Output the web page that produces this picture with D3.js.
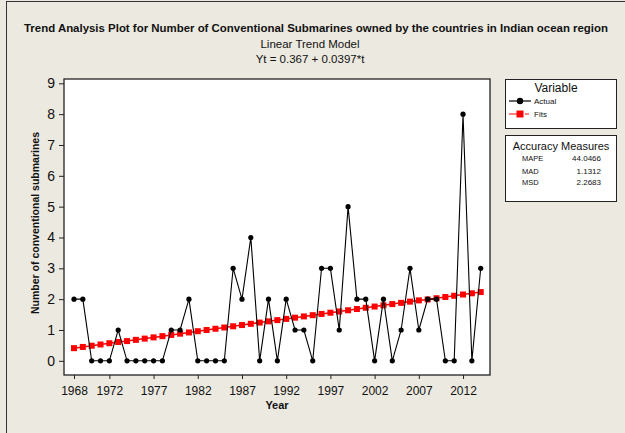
<!DOCTYPE html>
<html>
<head>
<meta charset="utf-8">
<script src="https://cdn.jsdelivr.net/npm/d3@7"></script>
<style>
  body { margin: 0; background: #ece9e0; }
  text { font-family: "Liberation Sans", Arial, sans-serif; fill: #111; }
</style>
</head>
<body>
<div id="chart"></div>
<script>
// years on the time axis (t = 1 .. 47)
var years = [1968,1969,1970,1971,1972,1973,1974,1975,1976,1977,1978,1979,1980,1981,1982,1983,
  1984,1985,1986,1987,1988,1989,1990,1991,1992,1993,1994,1995,1996,1997,1998,1999,2000,2001,
  2002,2003,2004,2005,2006,2007,2008,2009,2010,2011,2012,2013,2014];

var actual = [2,2,0,0,0,1,0,0,0,0,0,1,1,2,0,0,
  0,0,3,2,4,0,2,0,2,1,1,0,3,3,1,5,2,2,
  0,2,0,1,3,1,2,2,0,0,8,0,3];

var fits = [0.41,0.45,0.49,0.53,0.57,0.61,0.64,0.68,0.72,0.76,0.80,0.84,0.88,0.92,0.96,1.00,
  1.04,1.08,1.12,1.16,1.20,1.24,1.28,1.32,1.36,1.40,1.44,1.48,1.52,1.56,1.60,1.64,1.68,1.72,
  1.76,1.80,1.84,1.88,1.92,1.96,1.99,2.03,2.07,2.11,2.15,2.19,2.23];

var xTicks = [1968,1972,1977,1982,1987,1992,1997,2002,2007,2012];
var yTicks = [0,1,2,3,4,5,6,7,8,9];

var measureNames = ["MAPE","MAD","MSD"];
var measureValues = ["44.0466","1.1312","2.2683"];

var W = 625, H = 433;
var svg = d3.select("#chart").append("svg")
            .attr("width", W)
            .attr("height", H);

// outer frame
svg.append("rect")
   .attr("x", 0).attr("y", 0).attr("width", W).attr("height", H)
   .attr("fill", "#ece9e0");
svg.append("rect")
   .attr("x", 6.5).attr("y", 1.5).attr("width", W + 10).attr("height", H + 10)
   .attr("fill", "none").attr("stroke", "#333");

var plotL = 64, plotR = 490, plotT = 79, plotB = 375;

var x = d3.scaleLinear().domain([1966.87, 2015.05]).range([plotL, plotR]);
var y = d3.scaleLinear().domain([-0.46, 9.14]).range([plotB, plotT]);

svg.append("rect")
   .attr("x", plotL).attr("y", plotT)
   .attr("width", plotR - plotL).attr("height", plotB - plotT)
   .attr("fill", "white").attr("stroke", "#222").attr("stroke-width", 1.3);

// titles
svg.append("text")
   .attr("x", 316).attr("y", 32)
   .attr("text-anchor", "middle")
   .style("font-size", "11.5px").style("font-weight", "bold")
   .attr("textLength", 584).attr("lengthAdjust", "spacingAndGlyphs")
   .text("Trend Analysis Plot for Number of Conventional Submarines owned by the countries in Indian ocean region");

svg.append("text")
   .attr("x", 310).attr("y", 48)
   .attr("text-anchor", "middle")
   .style("font-size", "11.5px")
   .text("Linear Trend Model");

svg.append("text")
   .attr("x", 310).attr("y", 63)
   .attr("text-anchor", "middle")
   .style("font-size", "11.5px")
   .text("Yt = 0.367 + 0.0397*t");

// axes
var xAxis = d3.axisBottom(x).tickValues(xTicks).tickSize(4).tickFormat(d3.format("d"));
var gx = svg.append("g").attr("transform", "translate(0," + plotB + ")").call(xAxis);
gx.select(".domain").remove();
gx.selectAll("line").attr("stroke", "#222");
gx.selectAll("text").style("font-size", "12px").attr("dy", "1.1em");

var yAxis = d3.axisLeft(y).tickValues(yTicks).tickSize(5);
var gy = svg.append("g").attr("transform", "translate(" + plotL + ",0)").call(yAxis);
gy.select(".domain").remove();
gy.selectAll("line").attr("stroke", "#222");
gy.selectAll("text").style("font-size", "14px").attr("x", -9);

svg.append("text")
   .attr("x", (plotL + plotR) / 2).attr("y", 409)
   .attr("text-anchor", "middle")
   .style("font-size", "11px").style("font-weight", "bold")
   .text("Year");

svg.append("text")
   .attr("transform", "translate(39," + ((plotT + plotB) / 2 - 4) + ") rotate(-90)")
   .attr("text-anchor", "middle")
   .style("font-size", "10.5px").style("font-weight", "bold")
   .text("Number of conventional submarines");

// fits
var fitLine = d3.line()
  .x(function(d, i){ return x(years[i]); })
  .y(function(d){ return y(d); });

svg.append("path")
   .attr("d", fitLine(fits))
   .attr("fill", "none")
   .attr("stroke", "red")
   .attr("stroke-width", 1.5);

svg.selectAll(".fit")
   .data(fits)
   .enter().append("rect")
   .attr("class", "fit")
   .attr("x", function(d, i){ return x(years[i]) - 3; })
   .attr("y", function(d){ return y(d) - 3; })
   .attr("width", 6).attr("height", 6)
   .attr("fill", "red");

// actual
var actLine = d3.line()
  .x(function(d, i){ return x(years[i]); })
  .y(function(d){ return y(d); });

svg.append("path")
   .attr("d", actLine(actual))
   .attr("fill", "none")
   .attr("stroke", "black")
   .attr("stroke-width", 1.1);

svg.selectAll(".act")
   .data(actual)
   .enter().append("circle")
   .attr("class", "act")
   .attr("cx", function(d, i){ return x(years[i]); })
   .attr("cy", function(d){ return y(d); })
   .attr("r", 2.6)
   .attr("fill", "black");

// legend box
svg.append("rect")
   .attr("x", 505.5).attr("y", 79.5).attr("width", 111).attr("height", 49)
   .attr("fill", "white").attr("stroke", "#222");

svg.append("text")
   .attr("x", 556).attr("y", 92)
   .attr("text-anchor", "middle")
   .style("font-size", "12px")
   .text("Variable");

svg.append("line")
   .attr("x1", 509).attr("x2", 531).attr("y1", 101).attr("y2", 101)
   .attr("stroke", "black").attr("stroke-width", 1.2);
svg.append("circle")
   .attr("cx", 520).attr("cy", 101).attr("r", 3.2).attr("fill", "black");
svg.append("text")
   .attr("x", 534).attr("y", 104)
   .style("font-size", "8px")
   .text("Actual");

svg.append("line")
   .attr("x1", 509).attr("x2", 531).attr("y1", 114).attr("y2", 114)
   .attr("stroke", "red").attr("stroke-width", 1.2)
   .attr("stroke-dasharray", "14,2,4");
svg.append("rect")
   .attr("x", 516.5).attr("y", 110.5).attr("width", 7).attr("height", 7).attr("fill", "red");
svg.append("text")
   .attr("x", 534).attr("y", 117)
   .style("font-size", "8px")
   .text("Fits");

// accuracy measures box
svg.append("rect")
   .attr("x", 505.5).attr("y", 135.5).attr("width", 111).attr("height", 66)
   .attr("fill", "white").attr("stroke", "#222");

svg.append("text")
   .attr("x", 561).attr("y", 150)
   .attr("text-anchor", "middle")
   .style("font-size", "11px")
   .text("Accuracy Measures");

var rowY = [161, 174, 185];
measureNames.forEach(function(n, i){
  svg.append("text")
     .attr("x", 522).attr("y", rowY[i])
     .style("font-size", "7.5px")
     .text(n);
  svg.append("text")
     .attr("x", 601).attr("y", rowY[i])
     .attr("text-anchor", "end")
     .style("font-size", "8px")
     .text(measureValues[i]);
});
</script>
</body>
</html>
